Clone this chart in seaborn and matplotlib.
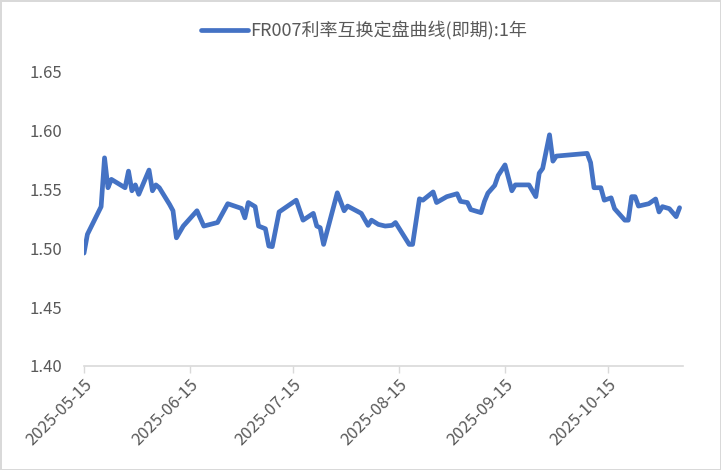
import matplotlib
matplotlib.use("Agg")
import matplotlib.pyplot as plt
import matplotlib.dates as mdates
import seaborn as sns
import pandas as pd

dates = [
    "2025-05-15", "2025-05-16", "2025-05-20", "2025-05-21", "2025-05-22", "2025-05-23",
    "2025-05-27", "2025-05-28", "2025-05-29", "2025-05-30", "2025-05-31", "2025-06-03",
    "2025-06-04", "2025-06-05", "2025-06-06", "2025-06-09", "2025-06-10", "2025-06-11",
    "2025-06-13", "2025-06-17", "2025-06-19", "2025-06-23", "2025-06-26", "2025-06-30",
    "2025-07-01", "2025-07-02", "2025-07-04", "2025-07-05", "2025-07-07", "2025-07-08",
    "2025-07-09", "2025-07-11", "2025-07-16", "2025-07-18", "2025-07-21", "2025-07-22",
    "2025-07-23", "2025-07-24", "2025-07-28", "2025-07-30", "2025-07-31", "2025-08-04",
    "2025-08-06", "2025-08-07", "2025-08-09", "2025-08-11", "2025-08-13", "2025-08-14",
    "2025-08-18", "2025-08-19", "2025-08-21", "2025-08-22", "2025-08-25", "2025-08-26",
    "2025-08-29", "2025-09-01", "2025-09-02", "2025-09-04", "2025-09-05", "2025-09-08",
    "2025-09-09", "2025-09-10", "2025-09-12", "2025-09-13", "2025-09-15", "2025-09-17",
    "2025-09-18", "2025-09-22", "2025-09-24", "2025-09-25", "2025-09-26", "2025-09-28",
    "2025-09-29", "2025-09-30", "2025-10-09", "2025-10-10", "2025-10-11", "2025-10-13",
    "2025-10-14", "2025-10-16", "2025-10-17", "2025-10-20", "2025-10-21", "2025-10-22",
    "2025-10-23", "2025-10-24", "2025-10-27", "2025-10-29", "2025-10-30", "2025-10-31",
    "2025-11-02", "2025-11-04", "2025-11-05",
]
rates = [
    1.496, 1.512, 1.5355, 1.577, 1.5516, 1.5587,
    1.5516, 1.5657, 1.549, 1.554, 1.546, 1.5666,
    1.549, 1.554, 1.5516, 1.5374, 1.532, 1.509,
    1.519, 1.532, 1.519, 1.522, 1.538, 1.534,
    1.526, 1.539, 1.5355, 1.519, 1.5167, 1.502,
    1.5015, 1.531, 1.541, 1.524, 1.5298, 1.519,
    1.5176, 1.5034, 1.5473, 1.532, 1.536, 1.5298,
    1.5196, 1.524, 1.5204, 1.519, 1.5196, 1.522,
    1.5034, 1.5034, 1.5422, 1.541, 1.548, 1.539,
    1.544, 1.5465, 1.540, 1.539, 1.533, 1.5304,
    1.540, 1.547, 1.5536, 1.562, 1.571, 1.549,
    1.554, 1.554, 1.544, 1.564, 1.568, 1.5966,
    1.5742, 1.5785, 1.5808, 1.573, 1.5516, 1.5516,
    1.541, 1.543, 1.5338, 1.524, 1.524, 1.544,
    1.544, 1.536, 1.538, 1.542, 1.531, 1.5355,
    1.5338, 1.527, 1.5346,
]
tick_dates = ["2025-05-15", "2025-06-15", "2025-07-15", "2025-08-15", "2025-09-15", "2025-10-15"]
y_ticks = [1.40, 1.45, 1.50, 1.55, 1.60, 1.65]
series_name = "FR007利率互换定盘曲线(即期):1年"

df = pd.DataFrame({"date": pd.to_datetime(dates), "rate": rates})

sns.set_theme(style="white")
plt.rcParams["font.family"] = ["Noto Sans CJK SC", "DejaVu Sans"]

fig = plt.figure(figsize=(7.21, 4.70), dpi=100)
fig.patch.set_edgecolor("#d9d9d9")
fig.patch.set_linewidth(2)
ax = fig.add_axes([84 / 721, 1 - 366 / 470, (683 - 84) / 721, (366 - 72) / 470])

sns.lineplot(data=df, x="date", y="rate", ax=ax, color="#4472C4", linewidth=3.4,
             label=series_name)

ax.set_xlim(pd.Timestamp("2025-05-15"), pd.Timestamp("2025-11-06"))
ax.set_ylim(1.40, 1.65)
ax.set_yticks(y_ticks)
ax.set_yticklabels([f"{v:.2f}" for v in y_ticks])
ax.set_xticks(pd.to_datetime(tick_dates))
ax.xaxis.set_major_formatter(mdates.DateFormatter("%Y-%m-%d"))
ax.set_xlabel("")
ax.set_ylabel("")

for s in ["top", "right", "left"]:
    ax.spines[s].set_visible(False)
ax.spines["bottom"].set_color("#d9d9d9")
ax.spines["bottom"].set_linewidth(1.2)
ax.tick_params(axis="x", colors="#595959", labelsize=12, length=5, width=1,
               color="#d9d9d9", direction="out", bottom=True, pad=2)
ax.tick_params(axis="y", colors="#595959", labelsize=12, length=0, pad=16)
for lbl in ax.get_xticklabels():
    lbl.set_rotation(45)
    lbl.set_ha("right")
    lbl.set_rotation_mode("anchor")

leg = ax.legend(loc="center", bbox_to_anchor=(364 / 721, 1 - 31 / 470),
                bbox_transform=fig.transFigure, frameon=False,
                fontsize=13, handlelength=2.6, handletextpad=0.15)
for t in leg.get_texts():
    t.set_color("#595959")

fig.savefig("out.png", dpi=100)
